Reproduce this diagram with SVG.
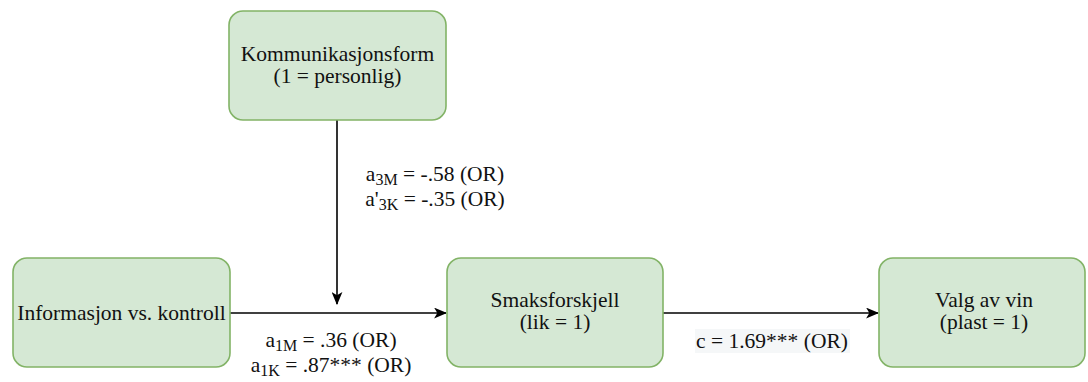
<svg xmlns="http://www.w3.org/2000/svg" width="1088" height="382" viewBox="0 0 1088 382">
  <style>
    .box { fill: #d5e8d4; stroke: #82b366; stroke-width: 1.6; }
    .lbl { font-family: "Liberation Serif", "DejaVu Serif", serif; font-size: 21.5px; fill: #111111; }
    .sub { font-size: 16px; }
    .edge { stroke: #000000; stroke-width: 1.6; fill: none; }
  </style>
  <defs>
    <marker id="arrow" viewBox="0 0 12 10" refX="11" refY="5" markerWidth="13" markerHeight="11" markerUnits="userSpaceOnUse" orient="auto">
      <path d="M0,0 L12,5 L0,10 L3,5 Z" fill="#000000"/>
    </marker>
  </defs>
  <rect width="1088" height="382" fill="#ffffff"/>

  <!-- connectors -->
  <g id="connectors">
    <line class="edge" x1="230" y1="313" x2="446" y2="313" marker-end="url(#arrow)"/>
    <line class="edge" x1="337" y1="120" x2="337" y2="304" marker-end="url(#arrow)"/>
    <line class="edge" x1="663" y1="313" x2="878" y2="313" marker-end="url(#arrow)"/>

    <text class="lbl" x="435" y="181" text-anchor="middle">a<tspan class="sub" dy="4">3M</tspan><tspan dy="-4"> = -.58 (OR)</tspan></text>
    <text class="lbl" x="435" y="206" text-anchor="middle">a'<tspan class="sub" dy="4">3K</tspan><tspan dy="-4"> = -.35 (OR)</tspan></text>

    <text class="lbl" x="331" y="347" text-anchor="middle">a<tspan class="sub" dy="4">1M</tspan><tspan dy="-4"> = .36 (OR)</tspan></text>
    <text class="lbl" x="331" y="372" text-anchor="middle">a<tspan class="sub" dy="4">1K</tspan><tspan dy="-4"> = .87*** (OR)</tspan></text>

    <rect x="695" y="329" width="155" height="24" fill="#f5f7f8"/>
    <text class="lbl" x="772" y="348" text-anchor="middle">c = 1.69*** (OR)</text>
  </g>

  <!-- nodes -->
  <g id="node-kommunikasjonsform">
    <rect class="box" x="229" y="11" width="217" height="109" rx="14"/>
    <text class="lbl" x="337.5" y="61" text-anchor="middle">Kommunikasjonsform</text>
    <text class="lbl" x="337.5" y="83" text-anchor="middle">(1 = personlig)</text>
  </g>
  <g id="node-informasjon">
    <rect class="box" x="13" y="258" width="217" height="109" rx="14"/>
    <text class="lbl" x="121.5" y="320" text-anchor="middle">Informasjon vs. kontroll</text>
  </g>
  <g id="node-smaksforskjell">
    <rect class="box" x="447" y="258" width="216" height="109" rx="14"/>
    <text class="lbl" x="555" y="307" text-anchor="middle">Smaksforskjell</text>
    <text class="lbl" x="555" y="329" text-anchor="middle">(lik = 1)</text>
  </g>
  <g id="node-valg">
    <rect class="box" x="879" y="258" width="206" height="109" rx="14"/>
    <text class="lbl" x="984" y="307" text-anchor="middle">Valg av vin</text>
    <text class="lbl" x="984" y="329" text-anchor="middle">(plast = 1)</text>
  </g>
</svg>
